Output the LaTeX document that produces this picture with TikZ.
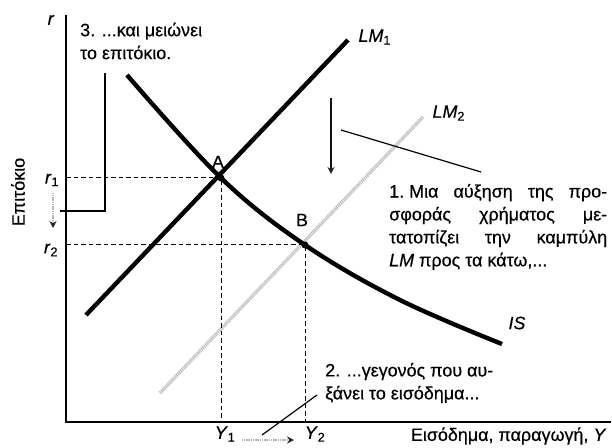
\documentclass[tikz,border=0pt]{standalone}
\usepackage{fontspec}
\setmainfont{Liberation Sans}[FakeBold=0.5]
\usetikzlibrary{arrows.meta}

\newcommand{\lbl}[2]{\textit{#1}\textsubscript{#2}}

\tikzset{
  curve/.style={line width=4.4bp},
  shiftcurve/.style={line width=3.6bp, gray!50, dash pattern=on 1.2bp off 0.8bp},
  guide/.style={line width=1bp, dash pattern=on 4.5bp off 3bp},
  pointer/.style={line width=1.2bp},
  moveto/.style={line width=2.2bp, gray!55, dash pattern=on 1.2bp off 0.6bp,
    -{Stealth[length=7bp, width=7bp, color=gray!30!black]}},
}

\begin{document}
\begin{tikzpicture}[x=1bp, y=-1bp, font=\fontsize{18}{23}\selectfont]
\useasboundingbox (0,0) rectangle (612,448);
% axes and points
\coordinate (top) at (66,15);
\coordinate (O) at (66,422);
\coordinate (right) at (611,422);
\coordinate (A) at (221,178);
\coordinate (B) at (305,245);
\coordinate (rA) at (66,178);
\coordinate (rB) at (66,245);
\coordinate (yA) at (221,422);
\coordinate (yB) at (305,422);
\draw[line width=1.6bp] (top) -- (O) -- (right);

% curves
\coordinate (lm1s) at (86,315);
\coordinate (lm1e) at (348,40);
\coordinate (lm2s) at (160,393);
\coordinate (lm2e) at (423,117);
\coordinate (iss) at (127,75);
\coordinate (ise) at (502,344);
\draw[shiftcurve] (lm2s) -- (lm2e);
\draw[curve] (lm1s) -- (lm1e);
\draw[curve] plot[smooth, tension=0.6] coordinates {(iss) (A) (B) (400,300) (ise)};

\draw[guide] (rA) -- (A) -- (yA);
\draw[guide] (rB) -- (B) -- (yB);
\fill (A) circle (3.5bp);
\fill (B) circle (3.5bp);

% labels
\node (r) at (51,20) {\textit{r}};
\node (r1) at (52,180) {\lbl{r}{1}};
\node (r2) at (51,250) {\lbl{r}{2}};
\node (y1) at (225,434) {\lbl{Y}{1}};
\node (y2) at (315,434) {\lbl{Y}{2}};
\node (la) at (218,162) {A};
\node (lb) at (302,220) {B};
\node[anchor=west] (lm1) at (355,37) {\lbl{LM}{1}};
\node[anchor=west] (lm2) at (429,113) {\lbl{LM}{2}};
\node[anchor=west] (is) at (505,323) {\textit{IS}};
\node[rotate=90] (ylab) at (18,192) {Επιτόκιο};
\node[anchor=east] (xlab) at (610,436) {Εισόδημα, παραγωγή, \textit{Y}};

% notes
\node[anchor=west, align=left, inner sep=0] (n1) at (389,227) {%
  \makebox[218bp][s]{1.\hspace{0.28em}Μια αύξηση της προ-}\\
  \makebox[218bp][s]{σφοράς χρήματος με-}\\
  \makebox[218bp][s]{τατοπίζει την καμπύλη}\\
  \textit{LM} προς τα κάτω,...};
\node[anchor=west, align=left, inner sep=0] (n2) at (325,383) {%
  2. ...γεγονός που αυ-\\ ξάνει το εισόδημα...};
\node[anchor=west, align=left, inner sep=0] (n3) at (80,41) {%
  3. ...και μειώνει\\ το επιτόκιο.};

% pointers and moves
\coordinate (p1s) at (341,130);
\coordinate (p1e) at (481,172);
\coordinate (p2s) at (317,395);
\coordinate (p2e) at (262,435);
\coordinate (b3a) at (105,73);
\coordinate (b3b) at (105,211);
\coordinate (b3c) at (60,211);
\draw[pointer] (p1s) -- (p1e);
\draw[pointer] (p2s) -- (p2e);
\draw[pointer] (b3a) -- (b3b) -- (b3c);
\draw[moveto, solid, line width=2.6bp, draw=gray!15!black] (331,98) -- (331,174);
\draw[moveto, line width=1.6bp] (53,193) -- (53,228);
\draw[moveto] (242,440) -- (294,440);
\end{tikzpicture}
\end{document}
